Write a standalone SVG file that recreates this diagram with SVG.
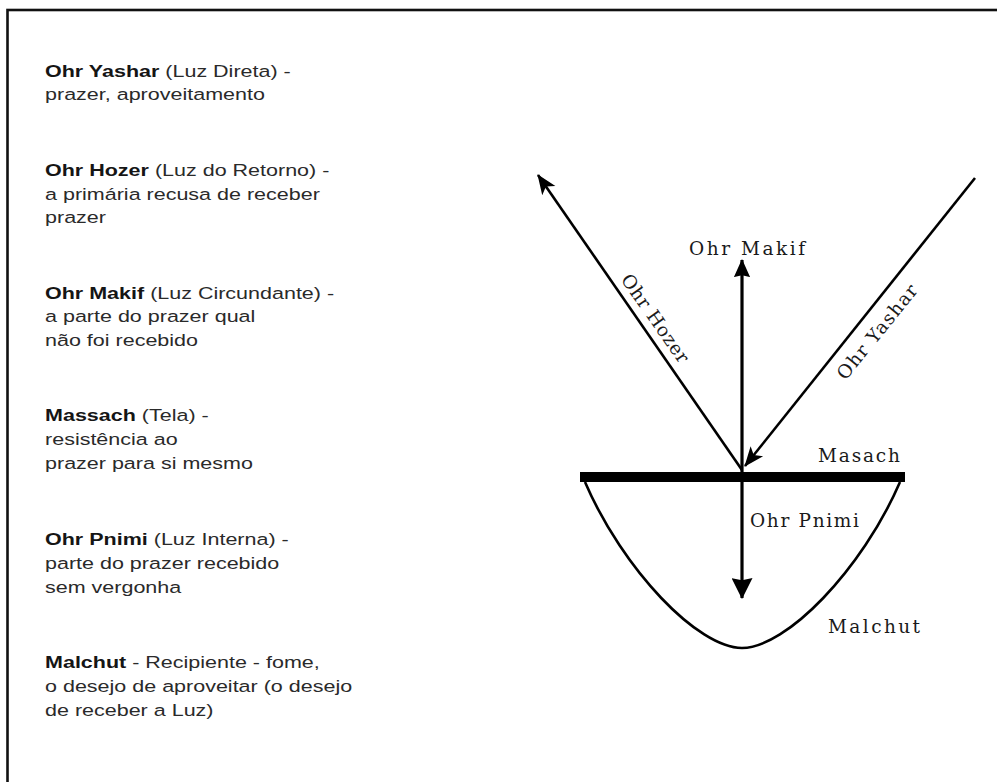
<svg xmlns="http://www.w3.org/2000/svg" width="997" height="782" viewBox="0 0 997 782">
<style>
.lt{font-family:"Liberation Sans",Arial,sans-serif;font-size:17px;fill:#2a2a2a}
.lt .b{font-weight:bold;fill:#151515}
.st{font-family:"DejaVu Serif","Liberation Serif",serif;font-size:18.5px;fill:#1a1a1a}
.ln{stroke:#000;stroke-width:2.6;fill:none}
.vl{stroke:#000;stroke-width:3.2;fill:none}
</style>
<defs>
<marker id="sw" viewBox="0 0 20 20" refX="19" refY="10" markerUnits="userSpaceOnUse" markerWidth="20" markerHeight="20" orient="auto">
<path d="M0,2 L20,10 L0,18 L5,10 z" fill="#000"/>
</marker>
<marker id="tri" viewBox="0 0 20 20" refX="19" refY="10" markerUnits="userSpaceOnUse" markerWidth="18" markerHeight="18" orient="auto">
<path d="M0,1 L20,10 L0,19 L2,10 z" fill="#000"/>
</marker>
<marker id="tri2" viewBox="0 0 20 20" refX="19" refY="10" markerUnits="userSpaceOnUse" markerWidth="21" markerHeight="21" orient="auto">
<path d="M0,0 L20,10 L0,20 L2,10 z" fill="#000"/>
</marker>
</defs>
<rect x="0" y="0" width="997" height="782" fill="#fff"/>
<rect x="7.5" y="10" width="1010" height="800" fill="none" stroke="#111" stroke-width="2.6"/>

<g id="legend">
<g id="legend-yashar" class="lt" transform="scale(1.265,1)">
<text x="35.6" y="77"><tspan class="b">Ohr Yashar</tspan> (Luz Direta) -</text>
<text x="35.6" y="100">prazer, aproveitamento</text>
</g>
<g id="legend-hozer" class="lt" transform="scale(1.265,1)">
<text x="35.6" y="176"><tspan class="b">Ohr Hozer</tspan> (Luz do Retorno) -</text>
<text x="35.6" y="200">a primária recusa de receber</text>
<text x="35.6" y="223">prazer</text>
</g>
<g id="legend-makif" class="lt" transform="scale(1.265,1)">
<text x="35.6" y="299"><tspan class="b">Ohr Makif</tspan> (Luz Circundante) -</text>
<text x="35.6" y="322">a parte do prazer qual</text>
<text x="35.6" y="346">não foi recebido</text>
</g>
<g id="legend-massach" class="lt" transform="scale(1.265,1)">
<text x="35.6" y="421"><tspan class="b">Massach</tspan> (Tela) -</text>
<text x="35.6" y="445">resistência ao</text>
<text x="35.6" y="469">prazer para si mesmo</text>
</g>
<g id="legend-pnimi" class="lt" transform="scale(1.265,1)">
<text x="35.6" y="545"><tspan class="b">Ohr Pnimi</tspan> (Luz Interna) -</text>
<text x="35.6" y="569">parte do prazer recebido</text>
<text x="35.6" y="593">sem vergonha</text>
</g>
<g id="legend-malchut" class="lt" transform="scale(1.265,1)">
<text x="35.6" y="668"><tspan class="b">Malchut</tspan> - Recipiente - fome,</text>
<text x="35.6" y="692">o desejo de aproveitar (o desejo</text>
<text x="35.6" y="716">de receber a Luz)</text>
</g>
</g>

<g id="masach">
<rect x="580" y="472" width="325" height="10" fill="#000"/>
<text class="st" x="818" y="462" textLength="82" lengthAdjust="spacing">Masach</text>
</g>
<g id="malchut">
<path class="ln" d="M585,482 C623,570 698,648 742,648 C786,648 862,570 900,482"/>
<text class="st" x="828" y="633" textLength="92" lengthAdjust="spacing">Malchut</text>
</g>

<g id="connectors">
<line id="ohr-hozer" class="ln" x1="742" y1="470" x2="538" y2="175" marker-end="url(#sw)"/>
<line id="ohr-yashar" class="ln" x1="975" y1="178" x2="745" y2="466" marker-end="url(#sw)"/>
<line id="ohr-makif" class="vl" x1="742" y1="470" x2="742" y2="260" marker-end="url(#tri)"/>
<line id="ohr-pnimi" class="vl" x1="742" y1="470" x2="742" y2="598" marker-end="url(#tri2)"/>
</g>

<g id="labels">
<text class="st" x="689" y="255" textLength="116" lengthAdjust="spacing">Ohr Makif</text>
<text class="st" x="750" y="527" textLength="109" lengthAdjust="spacing">Ohr Pnimi</text>
<text class="st" text-anchor="middle" transform="translate(650,322) rotate(55)" textLength="104" lengthAdjust="spacing">Ohr Hozer</text>
<text class="st" text-anchor="middle" transform="translate(882,336) rotate(-51)" textLength="116" lengthAdjust="spacing">Ohr Yashar</text>
</g>
</svg>
